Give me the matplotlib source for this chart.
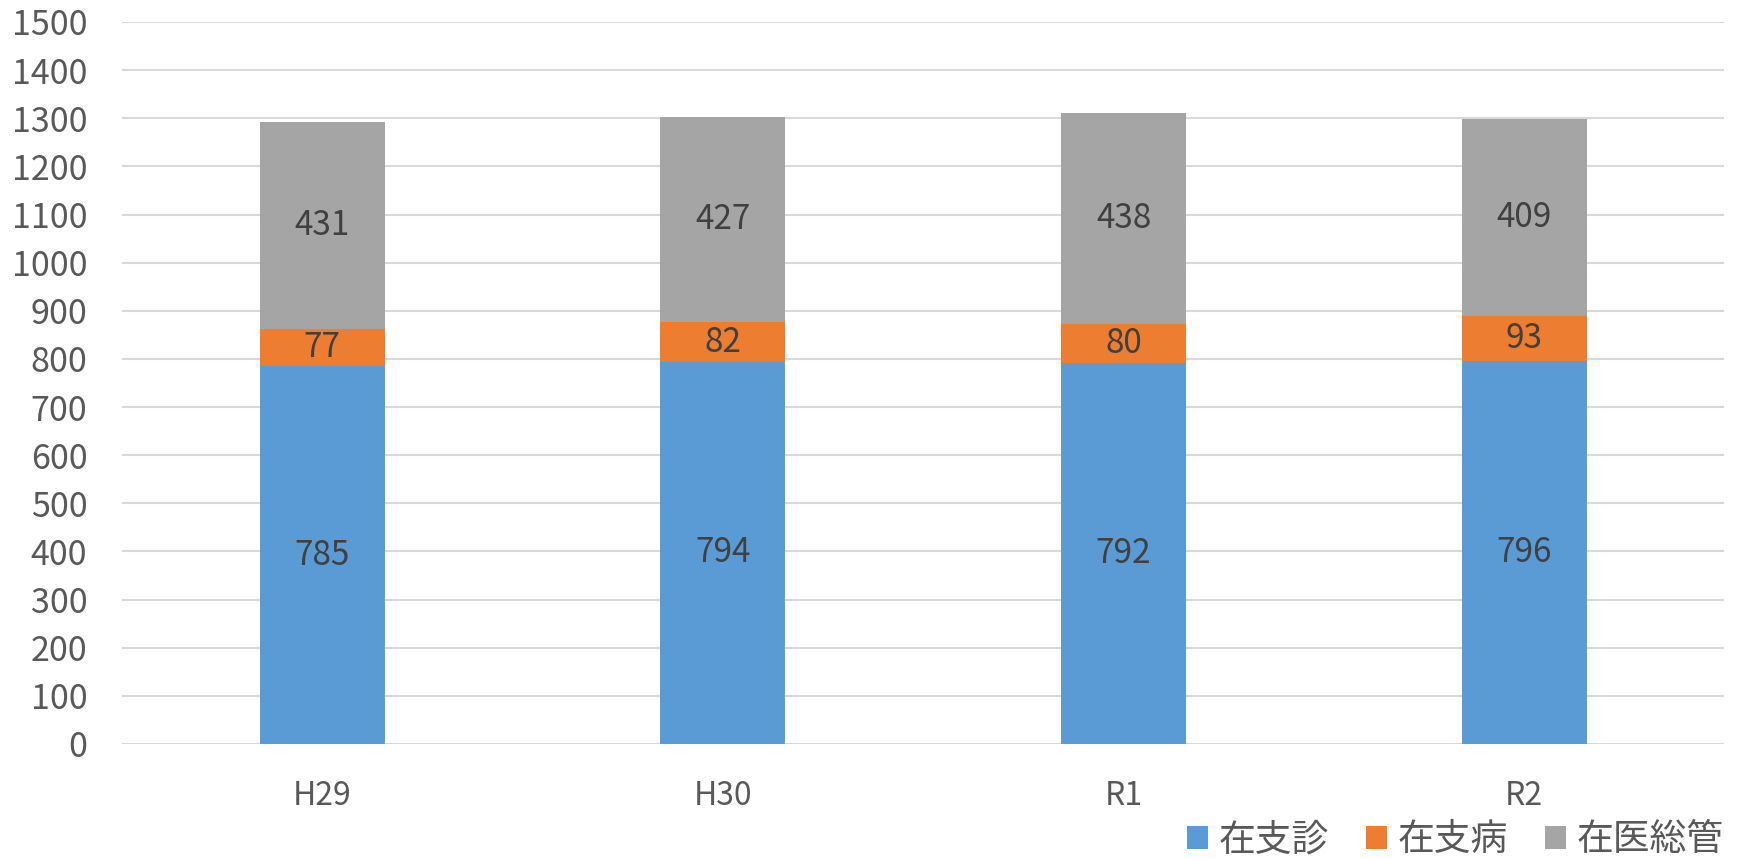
import numpy as np
import matplotlib.pyplot as plt

plt.rcParams['font.family'] = ['Noto Sans CJK JP', 'DejaVu Sans']

years = ['H29', 'H30', 'R1', 'R2']
zaishin = [785, 794, 792, 796]
zaibyo = [77, 82, 80, 93]
zaii = [431, 427, 438, 409]
series_names = ['在支診', '在支病', '在医総管']
colors = ['#5b9bd5', '#ed7d31', '#a5a5a5']

fig = plt.figure(figsize=(17.38, 8.59), dpi=100)
ax = fig.add_axes([0.0702, 0.1339, 0.922, 0.8405])

x = np.arange(len(years))
bottom = np.zeros(len(years))
for vals, name, c in zip([zaishin, zaibyo, zaii], series_names, colors):
    vals = np.array(vals)
    ax.bar(x, vals, width=0.312, bottom=bottom, color=c, label=name, zorder=2)
    for xi, b, v in zip(x, bottom, vals):
        ax.text(xi, b + v / 2, str(v), ha='center', va='center',
                fontsize=24, color='#404040', zorder=3)
    bottom += vals

ax.set_xlim(-0.5, len(years) - 0.5)
ax.set_ylim(0, 1500)
ax.set_yticks(range(0, 1501, 100))
ax.set_xticks(x)
ax.set_xticklabels(years)
ax.grid(axis='y', color='#d9d9d9', linewidth=1.5, zorder=0)
ax.set_axisbelow(True)
for s in ax.spines.values():
    s.set_visible(False)
ax.tick_params(axis='both', length=0, labelcolor='#595959')
ax.tick_params(axis='x', pad=26, labelsize=23)
ax.tick_params(axis='y', pad=25, labelsize=24.5)

fig.legend(loc='lower right', bbox_to_anchor=(1.011, -0.039), ncol=3, frameon=False,
           fontsize=26.5, labelcolor='#595959', handlelength=0.57, handleheight=0.57,
           handletextpad=0.3, columnspacing=1.0)

fig.savefig('out.png', dpi=100)
